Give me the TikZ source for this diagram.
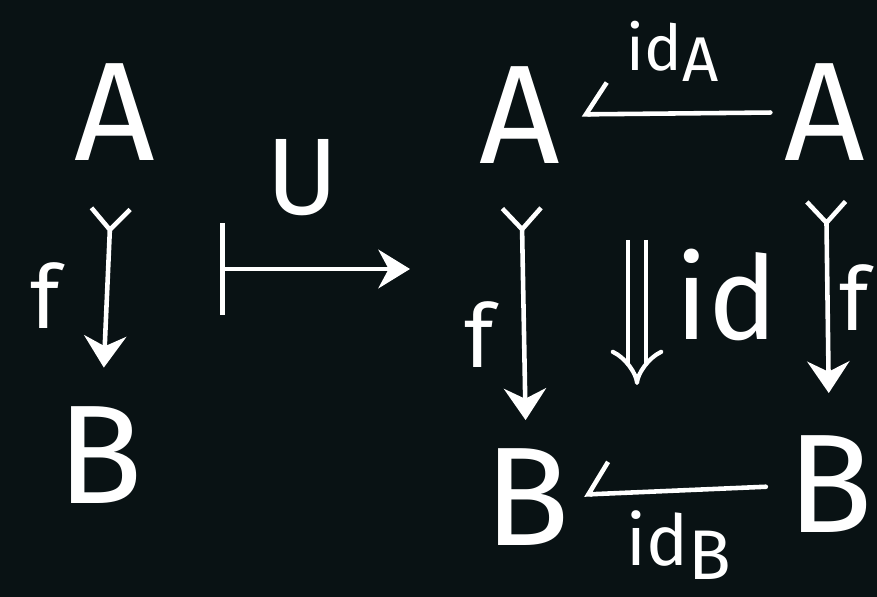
\documentclass[tikz,border=0pt]{standalone}
\usepackage{fontspec}
\setmainfont{Fira Sans}
\usetikzlibrary{arrows.meta,positioning}
\definecolor{board}{RGB}{9,18,20}
\tikzset{
  obj/.style={text=white, font=\fontsize{80}{80}\selectfont, inner sep=0pt},
  lbl/.style={text=white, font=\fontsize{50}{50}\selectfont, inner sep=0pt},
  sublbl/.style={text=white, font=\fontsize{36}{36}\selectfont, inner sep=0pt},
  mono/.style={draw=white, line width=2.6pt, line cap=round,
    {Straight Barb[reversed,length=12pt,width=22pt]}-{Stealth[length=18pt,width=24pt]}},
  back/.style={draw=white, line width=2.6pt, line cap=round,
    {Straight Barb[harpoon,swap,length=12pt,width=36pt]}-},
}
\begin{document}
\begin{tikzpicture}[x=0.02cm,y=-0.02cm]

    % Bord
    \fill[board] (0,0) rectangle (877,597);
    \useasboundingbox (0,0) rectangle (877,597);

    % Links: f
    \node[obj] (a) at (115,112) {A};
    \node[obj] (b) at (100,455) {B};
    \draw[mono, shorten <=26pt, shorten >=22pt] (a) -- (b)
        node[lbl, pos=0.55, left=0.9cm] {f};

    % Pijl U
    \coordinate (ms) at (220,269);
    \coordinate (me) at (410,269);
    \draw[white, line width=2.6pt, {Bar[width=52pt]}-{Stealth[length=18pt,width=22pt]}] (ms) -- (me);
    \node[lbl, font=\fontsize{62}{62}\selectfont] (u) at (303,178) {U};

    % Vierkant
    \node[obj] (tl) at (520,115) {A};
    \node[obj] (tr) at (825,112) {A};
    \node[obj] (bl) at (527,497) {B};
    \node[obj] (br) at (830,484) {B};

    \draw[back, shorten <=12pt, shorten >=8pt] (tl) -- (tr)
        node[sublbl, midway, above=0.6cm] {id\raisebox{-6pt}{A}};
    \draw[back, shorten <=8pt, shorten >=12pt] (bl) -- (br)
        node[sublbl, font=\fontsize{40}{40}\selectfont, midway, below=0.35cm] {id\raisebox{-8pt}{B}};
    \draw[mono, shorten <=24pt, shorten >=16pt] (tl) -- (bl)
        node[lbl, pos=0.6, left=0.55cm] {f};
    \draw[mono, shorten <=22pt, shorten >=24pt] (tr) -- (br)
        node[lbl, pos=0.5, right=0.2cm] {f};

    % 2-cel
    \coordinate (nt) at (637,240);
    \coordinate (nb) at (637,385);
    \draw[white, line width=2.4pt, double=board, double distance=8pt, -{Implies}] (nt) -- (nb);
    \node[lbl, font=\fontsize{66}{66}\selectfont] (id) at (727,295) {id};

\end{tikzpicture}
\end{document}
